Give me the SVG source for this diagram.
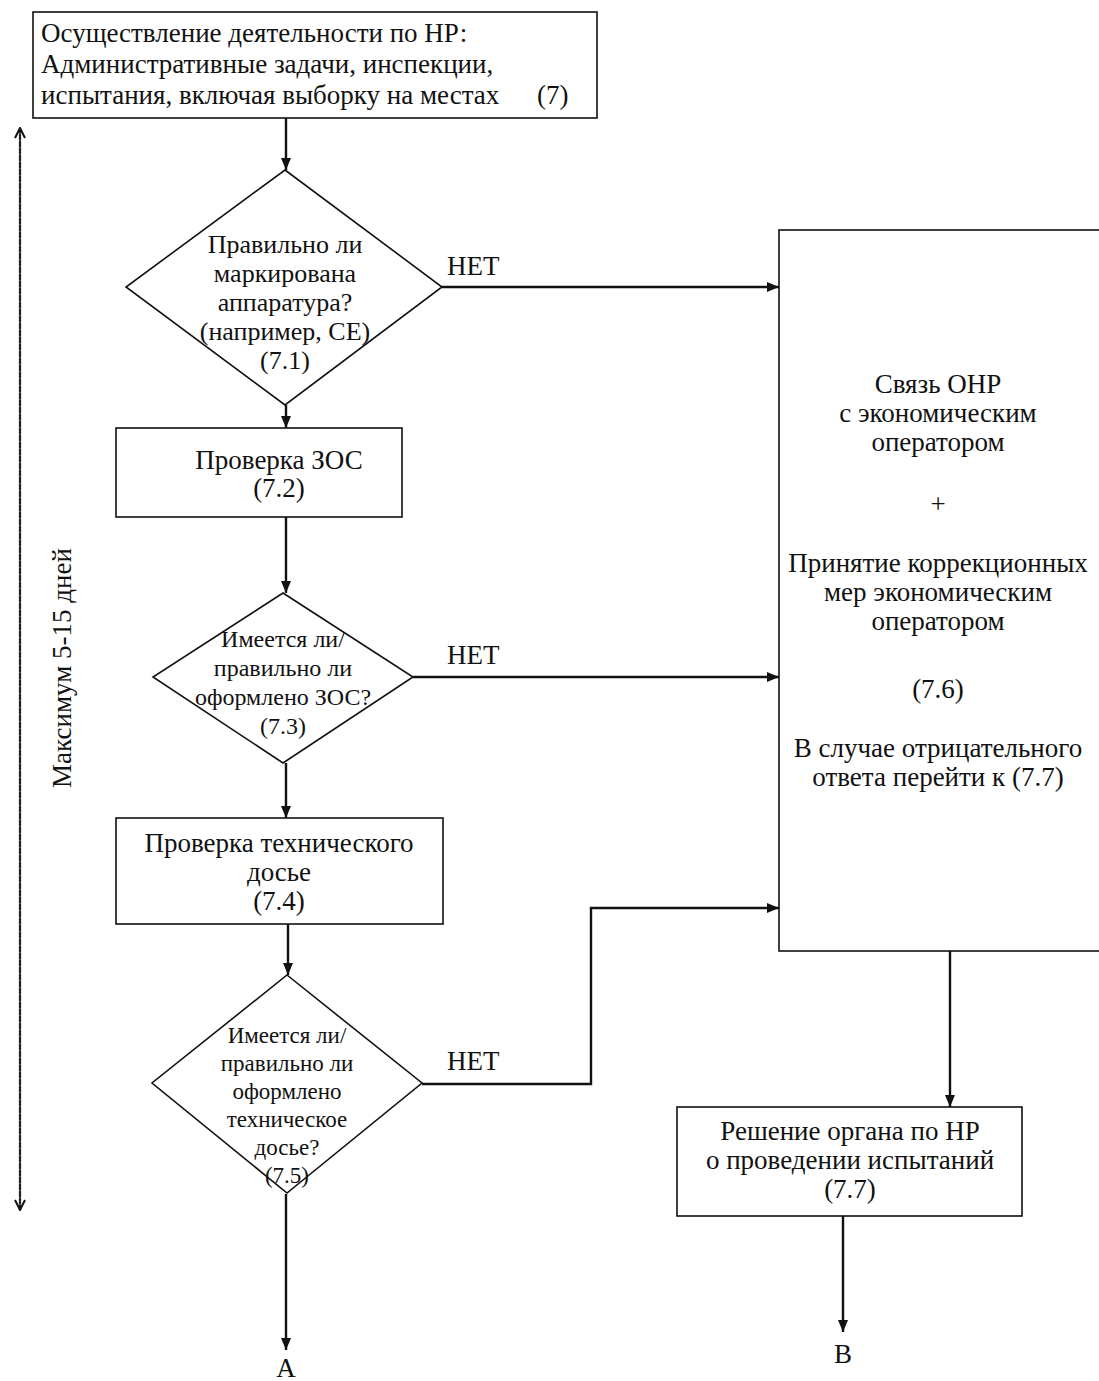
<svg xmlns="http://www.w3.org/2000/svg" width="1099" height="1381" viewBox="0 0 1099 1381">
<defs>
<style>
text{font-family:"Liberation Serif","Times New Roman",serif;font-size:27px;fill:#111}
.c{text-anchor:middle}
.d1{font-size:26px}
.d2{font-size:24px}
.d3{font-size:23px}
.shape{fill:#fff;stroke:#111;stroke-width:1.6}
.ln{fill:none;stroke:#111;stroke-width:2.4}
.dot{fill:none;stroke:#222;stroke-width:2.2;stroke-dasharray:2 1.5}
</style>
<marker id="ah" viewBox="0 0 12 10" refX="12" refY="5" markerWidth="12" markerHeight="10" markerUnits="userSpaceOnUse" orient="auto">
<path d="M0,0 L12,5 L0,10 Z" fill="#111"/>
</marker>
<marker id="open" viewBox="0 0 12 12" refX="11" refY="6" markerWidth="12" markerHeight="12" markerUnits="userSpaceOnUse" orient="auto">
<path d="M1,1 L11,6 L1,11" fill="none" stroke="#111" stroke-width="2"/>
</marker>
</defs>
<rect width="1099" height="1381" fill="#fff"/>

<g id="connectors">
<line class="ln" x1="286" y1="118" x2="286" y2="170" marker-end="url(#ah)"/>
<line class="ln" x1="442" y1="287" x2="779" y2="287" marker-end="url(#ah)"/>
<line class="ln" x1="286" y1="405" x2="286" y2="428" marker-end="url(#ah)"/>
<line class="ln" x1="286" y1="517" x2="286" y2="593" marker-end="url(#ah)"/>
<line class="ln" x1="413" y1="677" x2="779" y2="677" marker-end="url(#ah)"/>
<line class="ln" x1="286" y1="763" x2="286" y2="818" marker-end="url(#ah)"/>
<line class="ln" x1="288" y1="924" x2="288" y2="975" marker-end="url(#ah)"/>
<polyline class="ln" points="422,1084 591,1084 591,908 779,908" marker-end="url(#ah)"/>
<line class="ln" x1="286" y1="1194" x2="286" y2="1350" marker-end="url(#ah)"/>
<line class="ln" x1="950" y1="951" x2="950" y2="1107" marker-end="url(#ah)"/>
<line class="ln" x1="843" y1="1216" x2="843" y2="1332" marker-end="url(#ah)"/>
<text x="447" y="275">НЕТ</text>
<text x="447" y="664">НЕТ</text>
<text x="447" y="1070">НЕТ</text>
<text class="c" x="286" y="1377">А</text>
<text class="c" x="843" y="1363">В</text>
</g>

<g id="timeline">
<line class="dot" x1="20" y1="1210" x2="20" y2="128" marker-end="url(#open)"/>
<line class="dot" x1="20" y1="128" x2="20" y2="1210" marker-end="url(#open)"/>
<text class="c" transform="translate(71,668) rotate(-90)">Максимум 5-15 дней</text>
</g>

<g id="n7">
<rect class="shape" x="33" y="12" width="564" height="106"/>
<text x="41" y="42">Осуществление деятельности по НР:</text>
<text x="41" y="73">Административные задачи, инспекции,</text>
<text x="41" y="104">испытания, включая выборку на местах</text>
<text x="537" y="104">(7)</text>
</g>

<g id="n71">
<polygon class="shape" points="285,170 442,287 285,405 126,287"/>
<text class="c d1" x="285" y="253">Правильно ли</text>
<text class="c d1" x="285" y="282">маркирована</text>
<text class="c d1" x="285" y="311">аппаратура?</text>
<text class="c d1" x="285" y="340">(например, СЕ)</text>
<text class="c d1" x="285" y="369">(7.1)</text>
</g>

<g id="n72">
<rect class="shape" x="116" y="428" width="286" height="89"/>
<text class="c" x="279" y="469">Проверка ЗОС</text>
<text class="c" x="279" y="497">(7.2)</text>
</g>

<g id="n73">
<polygon class="shape" points="283,593 413,677 283,763 153,677"/>
<text class="c d2" x="283" y="647">Имеется ли/</text>
<text class="c d2" x="283" y="676">правильно ли</text>
<text class="c d2" x="283" y="705">оформлено ЗОС?</text>
<text class="c d2" x="283" y="734">(7.3)</text>
</g>

<g id="n74">
<rect class="shape" x="116" y="818" width="327" height="106"/>
<text class="c" x="279" y="852">Проверка технического</text>
<text class="c" x="279" y="881">досье</text>
<text class="c" x="279" y="910">(7.4)</text>
</g>

<g id="n75">
<polygon class="shape" points="287,975 422,1083 287,1193 152,1083"/>
<text class="c d3" x="287" y="1043">Имеется ли/</text>
<text class="c d3" x="287" y="1071">правильно ли</text>
<text class="c d3" x="287" y="1099">оформлено</text>
<text class="c d3" x="287" y="1127">техническое</text>
<text class="c d3" x="287" y="1155">досье?</text>
<text class="c d3" x="287" y="1183">(7.5)</text>
</g>

<g id="n76">
<rect class="shape" x="779" y="230" width="340" height="721"/>
<text class="c" x="938" y="393">Связь ОНР</text>
<text class="c" x="938" y="422">с экономическим</text>
<text class="c" x="938" y="451">оператором</text>
<text class="c" x="938" y="513">+</text>
<text class="c" x="938" y="572">Принятие коррекционных</text>
<text class="c" x="938" y="601">мер экономическим</text>
<text class="c" x="938" y="630">оператором</text>
<text class="c" x="938" y="698">(7.6)</text>
<text class="c" x="938" y="757">В случае отрицательного</text>
<text class="c" x="938" y="786">ответа перейти к (7.7)</text>
</g>

<g id="n77">
<rect class="shape" x="677" y="1107" width="345" height="109"/>
<text class="c" x="850" y="1140">Решение органа по НР</text>
<text class="c" x="850" y="1169">о проведении испытаний</text>
<text class="c" x="850" y="1198">(7.7)</text>
</g>
</svg>
